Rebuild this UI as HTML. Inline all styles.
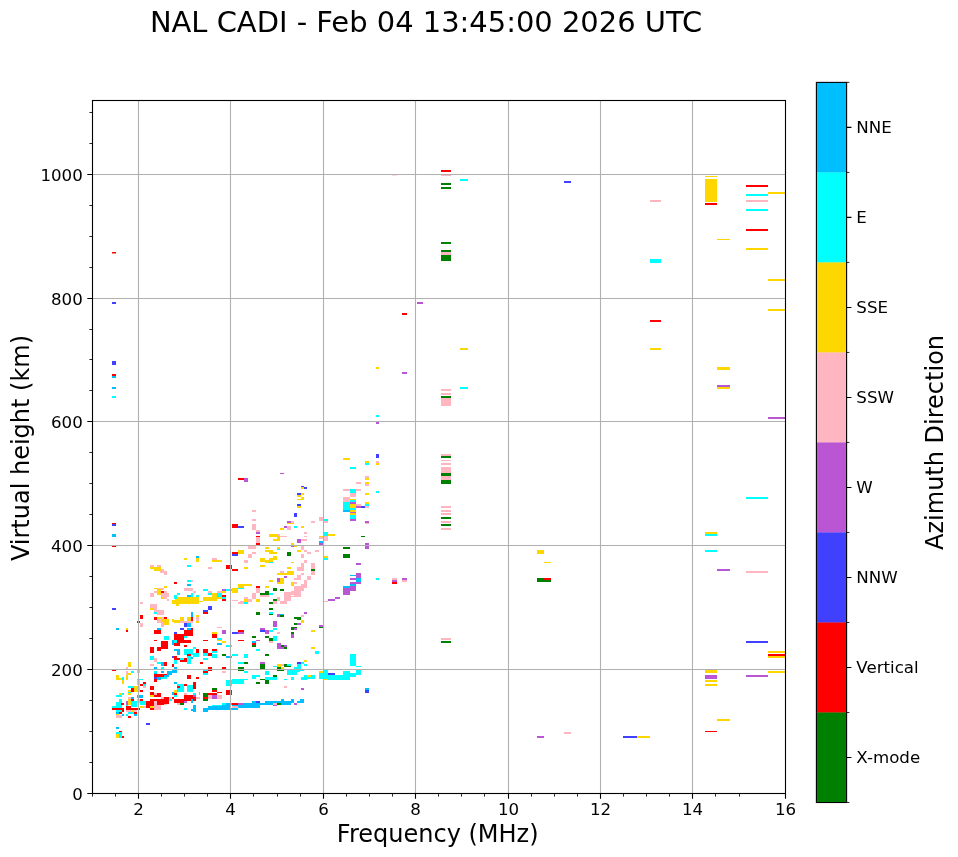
<!DOCTYPE html><html><head><meta charset="utf-8"><style>html,body{margin:0;padding:0;background:#fff;width:958px;height:857px;overflow:hidden}</style></head><body><svg width="958" height="857" viewBox="0 0 958 857" style="position:absolute;left:0;top:0;will-change:transform"><rect x="0" y="0" width="958" height="857" fill="#fff"/><path fill="#ff0000" d="M112 252h4v1.5h-4z"/><path fill="#4040ff" d="M112 302h4v2h-4zM112 361h4v4h-4z"/><path fill="#ff0000" d="M112 374h4v2h-4z"/><path fill="#00bfff" d="M112 376h4v2h-4zM112 387h4v2h-4z"/><path fill="#00ffff" d="M112 396h4v2h-4z"/><path fill="#ff0000" d="M112 523h4v1h-4z"/><path fill="#4040ff" d="M112 524h4v2h-4z"/><path fill="#00bfff" d="M112 534h4v3h-4z"/><path fill="#ff0000" d="M112 546h4v1h-4z"/><path fill="#ffb6c1" d="M150 565h4v2h-4zM157 565h4v2h-4z"/><path fill="#ffd700" d="M150 567h11v2h-11zM154 569h7v2h-7z"/><path fill="#ffb6c1" d="M161 569h3v2h-3zM160 571h5v2h-5zM164 571h3v4h-3z"/><path fill="#ffd700" d="M184 558h3v2h-3z"/><path fill="#00bfff" d="M196 556h3v2h-3z"/><path fill="#ffd700" d="M196 558h3v4h-3z"/><path fill="#ffb6c1" d="M212 558h5v2h-5z"/><path fill="#ffd700" d="M212 560h10v2h-10z"/><path fill="#00ffff" d="M187 565h4v2h-4z"/><path fill="#ffb6c1" d="M208 567h4v2h-4z"/><path fill="#ff0000" d="M226 565h6v4h-6zM230 567h2v2h-2zM232 569h6v2h-6zM232 552h6v2h-6z"/><path fill="#4040ff" d="M232 554h6v2h-6z"/><path fill="#ffd700" d="M238 550h3v4h-3z"/><path fill="#ff0000" d="M174 582h3v2h-3z"/><path fill="#00ffff" d="M187 580h4v2h-4z"/><path fill="#ffb6c1" d="M191 580h2v2h-2z"/><path fill="#00bfff" d="M187 584h4v2h-4z"/><path fill="#ffd700" d="M164 586h3v2h-3zM154 588h3v1h-3z"/><path fill="#ffb6c1" d="M157 588h7v2h-7zM184 588h9v3h-9z"/><path fill="#ffd700" d="M157 589h4v6h-4z"/><path fill="#ff0000" d="M161 591h3v2h-3z"/><path fill="#ffb6c1" d="M154 591h3v2h-3zM164 591h3v2h-3zM150 593h4v4h-4zM161 593h8v4h-8z"/><path fill="#ffd700" d="M161 597h3v2h-3z"/><path fill="#ffb6c1" d="M164 597h3v2h-3zM167 599h2v2h-2zM193 591h3v2h-3z"/><path fill="#00ffff" d="M203 589h5v2h-5z"/><path fill="#ffb6c1" d="M208 591h4v2h-4z"/><path fill="#00ffff" d="M208 593h4v2h-4z"/><path fill="#ffb6c1" d="M217 591h5v2h-5z"/><path fill="#ba55d3" d="M222 589h4v2h-4z"/><path fill="#ffd700" d="M222 591h4v2h-4z"/><path fill="#00ffff" d="M226 589h6v2h-6zM217 593h5v4h-5z"/><path fill="#ff0000" d="M222 595h4v2h-4z"/><path fill="#00ffff" d="M222 597h4v2h-4z"/><path fill="#ff0000" d="M222 599h4v2h-4z"/><path fill="#ffd700" d="M172 600h27v4h-27zM175 597h24v3h-24zM176 604h3v2h-3zM203 597h14v4h-14zM212 593h5v4h-5zM217 597h5v2h-5zM199 601h4v1h-4z"/><path fill="#00ffff" d="M174 595h3v4h-3zM177 593h3v2h-3z"/><path fill="#00bfff" d="M187 595h4v2h-4z"/><path fill="#00ffff" d="M191 593h2v4h-2zM196 595h3v2h-3z"/><path fill="#ffb6c1" d="M140 602h3v2h-3zM150 604h7v4h-7z"/><path fill="#ffd700" d="M150 608h4v2h-4z"/><path fill="#ffb6c1" d="M154 606h3v6h-3zM157 610h7v5h-7z"/><path fill="#00ffff" d="M154 612h3v2h-3z"/><path fill="#4040ff" d="M208 606h4v4h-4zM203 610h5v2h-5z"/><path fill="#ff0000" d="M203 612h5v2h-5zM140 615h3v4h-3z"/><path fill="#00bfff" d="M191 612h2v5h-2z"/><path fill="#ff0000" d="M154 617h3v3h-3z"/><path fill="#ffd700" d="M157 617h4v2h-4z"/><path fill="#ffb6c1" d="M161 617h3v2h-3z"/><path fill="#ff0000" d="M164 617h3v2h-3z"/><path fill="#ffb6c1" d="M157 619h4v4h-4z"/><path fill="#ffd700" d="M161 619h8v6h-8z"/><path fill="#ffb6c1" d="M161 622h3v5h-3zM140 623h3v4h-3z"/><path fill="#ffd700" d="M172 619h2v3h-2zM174 620h6v3h-6zM180 617h4v5h-4z"/><path fill="#ffb6c1" d="M180 621h7v2h-7z"/><path fill="#ffd700" d="M187 617h4v4h-4z"/><path fill="#ff0000" d="M191 617h2v4h-2z"/><path fill="#ffb6c1" d="M187 621h6v2h-6zM196 617h3v4h-3z"/><path fill="#ffd700" d="M196 615h3v2h-3zM196 621h3v2h-3z"/><path fill="#4040ff" d="M184 623h3v4h-3z"/><path fill="#00bfff" d="M187 623h4v4h-4zM157 628h4v2h-4z"/><path fill="#ff0000" d="M154 630h7v4h-7z"/><path fill="#4040ff" d="M180 628h4v2h-4z"/><path fill="#00bfff" d="M187 628h4v2h-4z"/><path fill="#ff0000" d="M184 630h9v6h-9zM191 628h2v4h-2z"/><path fill="#4040ff" d="M174 632h3v2h-3z"/><path fill="#ff0000" d="M174 634h10v6h-10z"/><path fill="#00ffff" d="M164 636h5v4h-5zM184 636h3v2h-3z"/><path fill="#ffb6c1" d="M217 627h5v1h-5z"/><path fill="#ba55d3" d="M222 630h4v4h-4z"/><path fill="#ffd700" d="M212 632h5v2h-5z"/><path fill="#ff0000" d="M212 634h5v4h-5z"/><path fill="#00ffff" d="M217 638h5v2h-5z"/><path fill="#4040ff" d="M232 632h6v2h-6z"/><path fill="#ba55d3" d="M238 632h2v2h-2z"/><path fill="#ff0000" d="M238 630h2v2h-2z"/><path fill="#ffd700" d="M232 588h6v5h-6z"/><path fill="#00ffff" d="M238 588h2v1h-2z"/><path fill="#ffd700" d="M238 584h2v4h-2z"/><path fill="#ffb6c1" d="M232 600h6v1h-6zM238 602h2v2h-2z"/><path fill="#ff0000" d="M154 640h3v1h-3zM161 641h7v8h-7zM157 647h4v4h-4zM150 647h4v6h-4z"/><path fill="#00bfff" d="M172 640h3v5h-3z"/><path fill="#00ffff" d="M174 640h3v4h-3z"/><path fill="#ff0000" d="M177 640h14v3h-14zM174 643h6v3h-6zM184 645h3v2h-3z"/><path fill="#00ffff" d="M193 647h3v2h-3z"/><path fill="#00bfff" d="M174 649h6v2h-6zM177 651h3v4h-3z"/><path fill="#00ffff" d="M184 649h9v6h-9z"/><path fill="#ff0000" d="M196 649h3v4h-3z"/><path fill="#00ffff" d="M193 653h6v4h-6z"/><path fill="#ff0000" d="M187 654h4v2h-4z"/><path fill="#00ffff" d="M187 656h4v8h-4z"/><path fill="#00bfff" d="M191 657h2v2h-2z"/><path fill="#00ffff" d="M150 656h4v4h-4z"/><path fill="#ffb6c1" d="M154 658h3v4h-3z"/><path fill="#4040ff" d="M172 656h2v2h-2z"/><path fill="#ff0000" d="M174 656h3v4h-3zM177 658h3v2h-3z"/><path fill="#00ffff" d="M180 658h4v2h-4z"/><path fill="#ff0000" d="M180 660h7v2h-7zM184 658h3v4h-3z"/><path fill="#00ffff" d="M174 660h3v4h-3zM157 662h4v2h-4z"/><path fill="#00bfff" d="M161 662h3v4h-3z"/><path fill="#ff0000" d="M164 662h3v4h-3z"/><path fill="#ffb6c1" d="M150 664h4v2h-4z"/><path fill="#ff0000" d="M172 664h2v3h-2z"/><path fill="#ffd700" d="M128 662h3v5h-3z"/><path fill="#ffb6c1" d="M126 667h2v2h-2z"/><path fill="#00bfff" d="M154 667h3v2h-3z"/><path fill="#00ffff" d="M161 667h3v2h-3z"/><path fill="#00bfff" d="M174 667h3v2h-3z"/><path fill="#ff0000" d="M112 670h4v1h-4z"/><path fill="#ffb6c1" d="M126 671h2v4h-2z"/><path fill="#00ffff" d="M131 671h3v2h-3z"/><path fill="#ffd700" d="M137 670h3v3h-3zM128 673h3v2h-3zM116 675h3v5h-3zM119 678h3v2h-3z"/><path fill="#00ffff" d="M122 677h2v3h-2z"/><path fill="#ffd700" d="M122 680h2v4h-2zM126 675h2v5h-2z"/><path fill="#00ffff" d="M154 671h3v3h-3z"/><path fill="#00bfff" d="M154 673h3v2h-3zM161 671h3v2h-3zM167 671h5v4h-5zM172 670h5v3h-5z"/><path fill="#ff0000" d="M154 674h13v3h-13z"/><path fill="#4040ff" d="M154 677h3v2h-3z"/><path fill="#00bfff" d="M157 677h4v3h-4z"/><path fill="#00ffff" d="M161 677h6v2h-6z"/><path fill="#00bfff" d="M164 675h5v2h-5z"/><path fill="#ff0000" d="M154 679h3v3h-3zM187 675h4v4h-4zM196 677h3v2h-3z"/><path fill="#00ffff" d="M137 679h6v1h-6z"/><path fill="#ffb6c1" d="M137 680h3v3h-3z"/><path fill="#ffd700" d="M137 683h3v2h-3z"/><path fill="#ff0000" d="M140 684h3v2h-3zM143 682h3v2h-3z"/><path fill="#00ffff" d="M143 684h3v2h-3z"/><path fill="#ffb6c1" d="M143 686h3v2h-3z"/><path fill="#00bfff" d="M174 682h3v2h-3z"/><path fill="#00ffff" d="M177 684h7v8h-7z"/><path fill="#ff0000" d="M184 684h3v2h-3zM193 682h3v7h-3z"/><path fill="#00ffff" d="M187 685h6v7h-6z"/><path fill="#ff0000" d="M177 686h3v2h-3z"/><path fill="#00ffff" d="M128 686h6v2h-6z"/><path fill="#ffd700" d="M134 686h6v6h-6z"/><path fill="#ff0000" d="M131 688h3v4h-3z"/><path fill="#ffd700" d="M128 690h3v2h-3z"/><path fill="#00ffff" d="M128 692h3v1h-3z"/><path fill="#ffd700" d="M128 693h3v2h-3z"/><path fill="#ff0000" d="M140 690h3v2h-3zM150 686h4v4h-4z"/><path fill="#ffd700" d="M174 690h3v3h-3z"/><path fill="#ff0000" d="M174 693h3v2h-3z"/><path fill="#00bfff" d="M172 692h2v3h-2z"/><path fill="#ff0000" d="M150 692h4v4h-4z"/><path fill="#ffd700" d="M150 695h4v2h-4z"/><path fill="#ff0000" d="M157 693h4v4h-4z"/><path fill="#ffb6c1" d="M154 693h3v2h-3z"/><path fill="#ff0000" d="M154 695h3v2h-3z"/><path fill="#ffd700" d="M119 693h3v2h-3z"/><path fill="#00ffff" d="M122 693h2v2h-2zM116 695h6v2h-6z"/><path fill="#00bfff" d="M137 695h6v3h-6z"/><path fill="#00ffff" d="M174 695h3v2h-3z"/><path fill="#ff0000" d="M184 695h9v6h-9z"/><path fill="#ffb6c1" d="M184 693h3v2h-3z"/><path fill="#ff0000" d="M193 696h3v5h-3z"/><path fill="#00ffff" d="M193 693h3v2h-3z"/><path fill="#ba55d3" d="M193 695h3v2h-3z"/><path fill="#ffb6c1" d="M196 697h4v2h-4z"/><path fill="#00ffff" d="M199 692h1v3h-1z"/><path fill="#ffb6c1" d="M128 697h3v2h-3z"/><path fill="#00bfff" d="M131 697h3v2h-3z"/><path fill="#00ffff" d="M119 699h3v3h-3z"/><path fill="#ff0000" d="M131 699h3v2h-3z"/><path fill="#ffd700" d="M128 699h3v6h-3z"/><path fill="#ba55d3" d="M126 701h2v4h-2z"/><path fill="#00ffff" d="M131 701h6v6h-6z"/><path fill="#ffd700" d="M137 699h3v4h-3z"/><path fill="#ff0000" d="M140 699h3v4h-3z"/><path fill="#00ffff" d="M140 701h6v4h-6z"/><path fill="#ff0000" d="M146 701h8v7h-8zM150 699h7v2h-7z"/><path fill="#ffb6c1" d="M154 701h7v9h-7z"/><path fill="#ff0000" d="M157 699h7v6h-7z"/><path fill="#ffb6c1" d="M161 697h6v2h-6zM164 703h3v2h-3z"/><path fill="#ff0000" d="M164 697h5v7h-5z"/><path fill="#ffb6c1" d="M169 697h2v2h-2z"/><path fill="#ff0000" d="M172 697h2v2h-2z"/><path fill="#00ffff" d="M169 699h3v2h-3z"/><path fill="#ffb6c1" d="M174 699h3v2h-3z"/><path fill="#ff0000" d="M174 699h10v4h-10z"/><path fill="#ba55d3" d="M184 701h3v2h-3z"/><path fill="#008000" d="M180 703h4v2h-4z"/><path fill="#ffb6c1" d="M177 703h3v2h-3z"/><path fill="#00bfff" d="M191 699h2v4h-2z"/><path fill="#00ffff" d="M184 708h3v2h-3z"/><path fill="#00bfff" d="M193 705h3v7h-3zM191 709h2v2h-2zM116 703h3v2h-3z"/><path fill="#00ffff" d="M116 702h6v6h-6zM112 706h4v2h-4z"/><path fill="#ff0000" d="M112 708h12v2h-12zM121 703h3v2h-3z"/><path fill="#00ffff" d="M116 710h6v2h-6z"/><path fill="#ff0000" d="M122 710h2v2h-2z"/><path fill="#00bfff" d="M116 712h3v2h-3z"/><path fill="#ff0000" d="M119 712h3v2h-3z"/><path fill="#ffd700" d="M116 714h3v2h-3z"/><path fill="#ffb6c1" d="M116 715h6v3h-6z"/><path fill="#00bfff" d="M122 714h2v2h-2z"/><path fill="#00ffff" d="M126 705h2v2h-2z"/><path fill="#ff0000" d="M126 706h5v2h-5zM126 708h14v2h-14z"/><path fill="#ffb6c1" d="M126 710h11v2h-11z"/><path fill="#ffd700" d="M131 710h3v2h-3z"/><path fill="#00ffff" d="M128 712h6v2h-6z"/><path fill="#ff0000" d="M134 712h3v2h-3z"/><path fill="#00bfff" d="M134 714h3v2h-3z"/><path fill="#00ffff" d="M126 714h2v2h-2z"/><path fill="#ff0000" d="M128 716h3v2h-3z"/><path fill="#ffd700" d="M140 706h6v2h-6z"/><path fill="#ffb6c1" d="M143 706h3v2h-3z"/><path fill="#ff0000" d="M137 708h3v2h-3z"/><path fill="#ffd700" d="M150 706h4v2h-4z"/><path fill="#ff0000" d="M150 708h4v2h-4z"/><path fill="#4040ff" d="M146 723h4v2h-4z"/><path fill="#00bfff" d="M116 727h3v2h-3z"/><path fill="#ff0000" d="M119 731h3v1h-3z"/><path fill="#00ffff" d="M116 732h6v6h-6z"/><path fill="#ffd700" d="M116 734h3v4h-3z"/><path fill="#ff0000" d="M122 736h2v2h-2zM203 640h5v1h-5z"/><path fill="#ffd700" d="M217 640h5v1h-5zM222 641h4v2h-4z"/><path fill="#00bfff" d="M217 643h5v2h-5z"/><path fill="#00ffff" d="M226 645h6v2h-6z"/><path fill="#ff0000" d="M238 640h6v1h-6z"/><path fill="#ba55d3" d="M256 640h4v1h-4z"/><path fill="#00bfff" d="M252 641h4v2h-4z"/><path fill="#ff0000" d="M252 643h4v2h-4z"/><path fill="#008000" d="M252 645h4v2h-4zM269 640h4v1h-4z"/><path fill="#00ffff" d="M273 640h4v1h-4z"/><path fill="#ffb6c1" d="M269 641h4v2h-4z"/><path fill="#ba55d3" d="M277 643h4v6h-4z"/><path fill="#008000" d="M281 645h3v2h-3z"/><path fill="#ba55d3" d="M281 647h3v2h-3zM284 645h3v2h-3z"/><path fill="#008000" d="M284 647h3v2h-3z"/><path fill="#00ffff" d="M256 649h4v2h-4z"/><path fill="#ff0000" d="M203 649h5v4h-5zM212 649h5v2h-5z"/><path fill="#00ffff" d="M212 651h5v2h-5zM203 653h5v3h-5z"/><path fill="#ff0000" d="M208 653h4v3h-4z"/><path fill="#00ffff" d="M212 654h5v4h-5z"/><path fill="#008000" d="M222 654h4v2h-4z"/><path fill="#00bfff" d="M226 656h6v2h-6z"/><path fill="#00ffff" d="M232 654h6v2h-6zM244 654h4v4h-4z"/><path fill="#008000" d="M265 654h4v2h-4z"/><path fill="#00ffff" d="M203 658h5v2h-5z"/><path fill="#ff0000" d="M200 662h3v2h-3z"/><path fill="#00ffff" d="M238 662h6v2h-6z"/><path fill="#008000" d="M244 662h4v2h-4z"/><path fill="#ba55d3" d="M260 662h5v2h-5z"/><path fill="#008000" d="M260 664h5v5h-5z"/><path fill="#ffd700" d="M277 664h4v3h-4z"/><path fill="#ffb6c1" d="M281 664h3v2h-3z"/><path fill="#008000" d="M284 664h3v3h-3z"/><path fill="#00ffff" d="M287 664h4v2h-4z"/><path fill="#008000" d="M287 666h4v1h-4z"/><path fill="#00ffff" d="M273 666h4v1h-4z"/><path fill="#008000" d="M277 667h4v2h-4z"/><path fill="#ffd700" d="M281 667h3v2h-3z"/><path fill="#4040ff" d="M297 662h3v2h-3z"/><path fill="#00ffff" d="M297 664h3v5h-3zM294 667h3v2h-3z"/><path fill="#ff0000" d="M208 667h4v4h-4zM222 667h4v2h-4z"/><path fill="#008000" d="M238 667h6v4h-6zM277 670h7v1h-7z"/><path fill="#ff0000" d="M203 671h5v2h-5z"/><path fill="#00ffff" d="M203 673h5v2h-5zM203 670h5v1h-5z"/><path fill="#ffb6c1" d="M222 671h4v2h-4z"/><path fill="#00ffff" d="M244 671h4v2h-4zM265 671h4v4h-4zM287 670h10v5h-10zM297 670h3v2h-3zM252 675h8v2h-8zM252 677h4v2h-4z"/><path fill="#008000" d="M273 675h4v2h-4z"/><path fill="#00ffff" d="M265 677h12v3h-12z"/><path fill="#008000" d="M260 679h5v1h-5zM265 680h4v4h-4zM256 682h4v2h-4z"/><path fill="#00ffff" d="M284 679h3v1h-3zM291 677h3v3h-3zM226 680h6v6h-6zM232 679h12v5h-12zM238 679h10v1h-10z"/><path fill="#ffb6c1" d="M284 686h3v2h-3z"/><path fill="#008000" d="M212 688h5v2h-5z"/><path fill="#ff0000" d="M212 690h5v2h-5zM217 692h5v1h-5zM226 690h6v5h-6z"/><path fill="#008000" d="M203 693h5v4h-5z"/><path fill="#ff0000" d="M208 693h9v2h-9zM203 697h5v2h-5z"/><path fill="#008000" d="M203 699h5v2h-5z"/><path fill="#ffb6c1" d="M208 695h4v4h-4z"/><path fill="#ba55d3" d="M212 695h5v4h-5z"/><path fill="#ffb6c1" d="M217 695h5v4h-5z"/><path fill="#00bfff" d="M203 708h5v4h-5zM208 706h14v4h-14z"/><path fill="#00ffff" d="M212 705h10v1h-10zM222 703h4v2h-4z"/><path fill="#00bfff" d="M222 705h8v5h-8zM226 703h6v2h-6z"/><path fill="#ff0000" d="M232 703h6v2h-6z"/><path fill="#ba55d3" d="M238 703h6v2h-6z"/><path fill="#00bfff" d="M232 705h6v1h-6z"/><path fill="#ffb6c1" d="M232 706h6v2h-6z"/><path fill="#00bfff" d="M230 708h8v2h-8zM238 705h22v3h-22zM244 703h16v2h-16zM252 701h4v2h-4z"/><path fill="#4040ff" d="M256 701h4v2h-4z"/><path fill="#00bfff" d="M260 703h13v2h-13zM265 701h16v3h-16z"/><path fill="#ffb6c1" d="M273 703h4v2h-4z"/><path fill="#ba55d3" d="M273 705h4v1h-4z"/><path fill="#008000" d="M277 703h4v2h-4z"/><path fill="#00bfff" d="M281 701h10v4h-10zM281 699h3v2h-3zM291 699h3v4h-3z"/><path fill="#ba55d3" d="M294 703h3v2h-3z"/><path fill="#00bfff" d="M297 701h3v2h-3z"/><path fill="#ffd700" d="M311 647h4v2h-4z"/><path fill="#00ffff" d="M315 651h4v3h-4z"/><path fill="#ffd700" d="M304 660h3v2h-3z"/><path fill="#4040ff" d="M300 662h1v2h-1z"/><path fill="#00ffff" d="M301 662h3v2h-3zM304 664h3v2h-3zM300 664h1v5h-1zM350 654h6v12h-6zM356 666h5v1h-5zM300 670h4v1h-4z"/><path fill="#ffd700" d="M319 671h4v2h-4z"/><path fill="#00ffff" d="M319 673h4v6h-4zM323 670h5v10h-5z"/><path fill="#4040ff" d="M328 673h7v2h-7z"/><path fill="#00ffff" d="M328 675h22v5h-22zM343 671h7v4h-7zM350 673h6v4h-6zM356 670h5v5h-5z"/><path fill="#ffd700" d="M324 679h4v1h-4z"/><path fill="#00ffff" d="M301 677h6v3h-6zM304 675h3v2h-3z"/><path fill="#ffd700" d="M307 675h4v2h-4z"/><path fill="#00ffff" d="M307 677h8v2h-8zM311 675h4v2h-4z"/><path fill="#ba55d3" d="M301 688h3v2h-3z"/><path fill="#00bfff" d="M300 699h4v4h-4zM365 688h4v2h-4z"/><path fill="#4040ff" d="M365 690h4v3h-4z"/><path fill="#ffb6c1" d="M256 540h4v3h-4z"/><path fill="#ff0000" d="M256 543h4v2h-4z"/><path fill="#ffd700" d="M273 540h7v1h-7z"/><path fill="#ba55d3" d="M297 540h4v3h-4z"/><path fill="#ffb6c1" d="M301 540h6v1h-6z"/><path fill="#ffd700" d="M291 543h3v3h-3z"/><path fill="#ba55d3" d="M291 546h3v1h-3z"/><path fill="#ffd700" d="M294 546h3v1h-3z"/><path fill="#00bfff" d="M319 541h4v2h-4z"/><path fill="#ba55d3" d="M319 543h4v2h-4z"/><path fill="#ffb6c1" d="M324 540h4v1h-4zM248 546h8v3h-8z"/><path fill="#ffd700" d="M240 550h4v4h-4z"/><path fill="#ffb6c1" d="M252 552h4v2h-4zM248 554h4v4h-4z"/><path fill="#ffd700" d="M265 547h4v2h-4zM265 550h8v2h-8zM269 552h8v2h-8zM277 547h3v2h-3z"/><path fill="#00ffff" d="M277 549h3v1h-3z"/><path fill="#008000" d="M287 552h4v4h-4z"/><path fill="#ffd700" d="M297 550h4v2h-4z"/><path fill="#ffb6c1" d="M301 546h3v4h-3zM304 550h3v2h-3zM307 552h4v2h-4zM315 550h4v2h-4zM301 554h3v4h-3z"/><path fill="#ffd700" d="M324 556h4v2h-4z"/><path fill="#00ffff" d="M324 558h4v2h-4z"/><path fill="#ffd700" d="M273 556h4v4h-4zM260 558h5v4h-5zM265 560h4v3h-4zM269 558h4v4h-4z"/><path fill="#00ffff" d="M269 562h4v1h-4z"/><path fill="#ffb6c1" d="M244 560h4v3h-4z"/><path fill="#ffd700" d="M291 562h3v1h-3z"/><path fill="#ffb6c1" d="M304 560h3v3h-3zM301 563h3v4h-3zM297 567h7v4h-7zM311 563h4v6h-4z"/><path fill="#008000" d="M311 569h4v2h-4z"/><path fill="#ffb6c1" d="M311 571h4v4h-4z"/><path fill="#ffd700" d="M244 567h4v2h-4zM260 565h5v2h-5zM287 567h4v2h-4z"/><path fill="#ffb6c1" d="M280 571h4v2h-4z"/><path fill="#ffd700" d="M277 573h10v2h-10zM287 571h7v4h-7z"/><path fill="#ffb6c1" d="M301 573h3v2h-3z"/><path fill="#ba55d3" d="M284 576h3v2h-3z"/><path fill="#ffb6c1" d="M297 575h4v5h-4zM294 578h3v2h-3zM307 576h4v4h-4z"/><path fill="#ba55d3" d="M277 578h3v4h-3z"/><path fill="#ffd700" d="M280 578h4v6h-4zM277 582h3v2h-3zM269 580h4v2h-4z"/><path fill="#ffb6c1" d="M304 580h3v4h-3zM301 584h6v4h-6z"/><path fill="#ffd700" d="M291 582h3v4h-3z"/><path fill="#ffb6c1" d="M294 582h3v2h-3z"/><path fill="#ffd700" d="M240 584h12v2h-12zM240 586h4v2h-4z"/><path fill="#00ffff" d="M240 588h4v1h-4z"/><path fill="#ff0000" d="M256 586h4v2h-4z"/><path fill="#ffd700" d="M265 586h4v2h-4z"/><path fill="#ffb6c1" d="M294 586h10v5h-10zM284 592h17v5h-17zM291 589h10v3h-10zM284 597h7v4h-7zM280 601h7v3h-7zM277 597h3v4h-3zM256 588h4v5h-4z"/><path fill="#008000" d="M260 593h9v2h-9zM265 591h4v2h-4z"/><path fill="#00ffff" d="M269 593h4v2h-4z"/><path fill="#ffb6c1" d="M260 595h9v2h-9z"/><path fill="#008000" d="M273 588h4v3h-4zM280 589h4v2h-4z"/><path fill="#ffb6c1" d="M252 593h4v6h-4zM244 597h4v2h-4z"/><path fill="#ffd700" d="M244 599h4v3h-4z"/><path fill="#00ffff" d="M244 602h4v2h-4z"/><path fill="#ffb6c1" d="M248 599h4v3h-4zM240 601h4v3h-4z"/><path fill="#ffd700" d="M256 599h4v3h-4z"/><path fill="#008000" d="M273 599h4v2h-4z"/><path fill="#ffb6c1" d="M273 601h4v3h-4z"/><path fill="#008000" d="M269 602h4v2h-4z"/><path fill="#ffb6c1" d="M324 601h4v1h-4z"/><path fill="#ba55d3" d="M328 599h7v2h-7zM335 597h5v2h-5z"/><path fill="#008000" d="M269 608h4v2h-4zM256 612h4v3h-4z"/><path fill="#00ffff" d="M269 612h4v2h-4z"/><path fill="#008000" d="M269 614h4v1h-4z"/><path fill="#ba55d3" d="M277 614h3v3h-3z"/><path fill="#00bfff" d="M280 614h4v1h-4z"/><path fill="#008000" d="M280 615h4v2h-4z"/><path fill="#ba55d3" d="M304 612h3v2h-3z"/><path fill="#ffb6c1" d="M301 615h3v2h-3z"/><path fill="#008000" d="M294 617h3v2h-3zM297 617h4v3h-4z"/><path fill="#ffd700" d="M301 620h3v3h-3z"/><path fill="#008000" d="M294 623h3v2h-3z"/><path fill="#ba55d3" d="M297 623h4v2h-4zM273 621h4v6h-4z"/><path fill="#008000" d="M291 627h6v2h-6zM291 629h3v1h-3z"/><path fill="#ba55d3" d="M294 628h3v2h-3zM319 625h4v2h-4z"/><path fill="#008000" d="M319 627h4v1h-4z"/><path fill="#ffd700" d="M311 630h4v2h-4z"/><path fill="#008000" d="M291 632h3v2h-3z"/><path fill="#ba55d3" d="M291 634h3v4h-3zM260 628h5v2h-5z"/><path fill="#4040ff" d="M260 630h5v2h-5z"/><path fill="#ba55d3" d="M265 630h4v4h-4z"/><path fill="#00ffff" d="M269 630h4v2h-4zM273 628h4v2h-4z"/><path fill="#ffb6c1" d="M277 632h3v2h-3z"/><path fill="#ff0000" d="M240 630h4v2h-4z"/><path fill="#ba55d3" d="M240 632h4v2h-4z"/><path fill="#008000" d="M252 636h4v2h-4zM265 636h4v2h-4zM269 638h4v2h-4z"/><path fill="#00ffff" d="M273 636h4v4h-4z"/><path fill="#4040ff" d="M376 454h3v4h-3z"/><path fill="#ffd700" d="M343 458h7v2h-7zM365 461h4v2h-4z"/><path fill="#00ffff" d="M365 463h4v2h-4z"/><path fill="#ffb6c1" d="M376 461h3v2h-3z"/><path fill="#ffd700" d="M376 463h3v2h-3z"/><path fill="#00ffff" d="M350 467h6v2h-6z"/><path fill="#ffb6c1" d="M365 476h4v2h-4z"/><path fill="#ffd700" d="M365 478h4v2h-4z"/><path fill="#ffb6c1" d="M356 482h5v2h-5z"/><path fill="#ffd700" d="M365 482h4v2h-4z"/><path fill="#ffb6c1" d="M365 484h4v2h-4zM343 489h7v2h-7z"/><path fill="#00ffff" d="M350 489h6v4h-6z"/><path fill="#ffb6c1" d="M356 489h5v2h-5z"/><path fill="#00ffff" d="M376 491h3v2h-3z"/><path fill="#ffb6c1" d="M350 493h6v4h-6z"/><path fill="#ffd700" d="M365 493h4v2h-4z"/><path fill="#ffb6c1" d="M343 497h7v5h-7z"/><path fill="#ffd700" d="M350 499h6v1h-6z"/><path fill="#00ffff" d="M350 500h6v2h-6z"/><path fill="#ba55d3" d="M350 502h6v2h-6z"/><path fill="#00ffff" d="M343 502h7v8h-7z"/><path fill="#00bfff" d="M343 510h7v2h-7z"/><path fill="#ffd700" d="M350 504h6v4h-6z"/><path fill="#00ffff" d="M350 508h6v2h-6z"/><path fill="#ffb6c1" d="M356 504h5v2h-5z"/><path fill="#ba55d3" d="M356 506h5v2h-5z"/><path fill="#4040ff" d="M361 506h4v2h-4z"/><path fill="#ffd700" d="M365 502h4v2h-4z"/><path fill="#00ffff" d="M365 504h4v2h-4z"/><path fill="#ffb6c1" d="M365 506h4v2h-4z"/><path fill="#ffd700" d="M350 510h6v2h-6z"/><path fill="#ba55d3" d="M350 512h6v1h-6z"/><path fill="#ffd700" d="M350 513h6v2h-6z"/><path fill="#00ffff" d="M350 515h6v4h-6z"/><path fill="#ba55d3" d="M350 519h6v2h-6zM365 521h4v2h-4z"/><path fill="#ffb6c1" d="M365 523h4v1h-4z"/><path fill="#ffd700" d="M330 534h5v2h-5z"/><path fill="#008000" d="M361 536h4v1h-4z"/><path fill="#ba55d3" d="M365 543h4v6h-4z"/><path fill="#008000" d="M343 547h7v2h-7zM343 554h7v4h-7z"/><path fill="#ba55d3" d="M356 563h5v2h-5z"/><path fill="#00bfff" d="M350 575h6v1h-6z"/><path fill="#ba55d3" d="M356 573h5v5h-5z"/><path fill="#00bfff" d="M356 578h5v4h-5z"/><path fill="#ba55d3" d="M350 578h6v2h-6zM350 582h11v2h-11z"/><path fill="#00bfff" d="M350 584h6v2h-6zM343 586h7v2h-7z"/><path fill="#ba55d3" d="M343 588h7v7h-7zM350 586h6v5h-6zM330 599h5v2h-5z"/><path fill="#00ffff" d="M376 578h3v2h-3z"/><path fill="#ffb6c1" d="M392 578h5v2h-5z"/><path fill="#ba55d3" d="M392 580h5v2h-5z"/><path fill="#ff0000" d="M392 582h5v2h-5z"/><path fill="#ba55d3" d="M402 578h5v2h-5z"/><path fill="#ffb6c1" d="M402 580h5v2h-5z"/><path fill="#ff0000" d="M232 524h6v4h-6z"/><path fill="#ba55d3" d="M280 473h4v1h-4z"/><path fill="#ff0000" d="M238 478h6v2h-6z"/><path fill="#ba55d3" d="M244 478h4v4h-4z"/><path fill="#4040ff" d="M301 486h3v1h-3z"/><path fill="#ffd700" d="M301 487h3v2h-3z"/><path fill="#4040ff" d="M304 487h3v2h-3zM297 493h4v2h-4z"/><path fill="#ffd700" d="M301 493h3v2h-3zM297 495h4v2h-4zM301 497h3v2h-3zM297 499h7v1h-7z"/><path fill="#4040ff" d="M297 504h4v2h-4z"/><path fill="#ffd700" d="M297 506h4v2h-4z"/><path fill="#4040ff" d="M294 513h3v4h-3z"/><path fill="#ffb6c1" d="M252 510h4v2h-4zM252 519h4v2h-4zM252 524h4v6h-4z"/><path fill="#4040ff" d="M238 526h6v2h-6z"/><path fill="#ba55d3" d="M287 521h4v2h-4z"/><path fill="#ffb6c1" d="M291 521h3v2h-3z"/><path fill="#ffd700" d="M287 523h7v1h-7z"/><path fill="#ba55d3" d="M284 526h3v2h-3z"/><path fill="#ffb6c1" d="M287 526h4v4h-4z"/><path fill="#ffd700" d="M280 528h4v2h-4z"/><path fill="#00ffff" d="M294 526h3v2h-3z"/><path fill="#ffd700" d="M301 526h3v2h-3z"/><path fill="#ffb6c1" d="M311 521h4v2h-4zM319 517h4v4h-4z"/><path fill="#00ffff" d="M324 519h4v2h-4z"/><path fill="#ffb6c1" d="M324 521h4v2h-4zM256 530h4v2h-4z"/><path fill="#ba55d3" d="M256 532h4v2h-4z"/><path fill="#ff0000" d="M256 536h4v1h-4z"/><path fill="#ffb6c1" d="M256 537h4v3h-4z"/><path fill="#ffd700" d="M269 534h8v3h-8z"/><path fill="#ffb6c1" d="M277 534h3v2h-3z"/><path fill="#ffd700" d="M277 536h3v4h-3zM273 539h7v1h-7z"/><path fill="#ffb6c1" d="M280 536h7v1h-7zM304 532h3v2h-3zM304 536h3v1h-3z"/><path fill="#ba55d3" d="M297 539h4v1h-4z"/><path fill="#ffb6c1" d="M301 539h6v1h-6z"/><path fill="#00ffff" d="M324 532h4v4h-4z"/><path fill="#ffb6c1" d="M324 536h4v4h-4z"/><path fill="#ffd700" d="M319 536h4v1h-4z"/><path fill="#ffb6c1" d="M319 537h4v2h-4z"/><path fill="#ffd700" d="M328 534h2v2h-2z"/><path fill="#4040ff" d="M112 608h4v2h-4z"/><path fill="#ff0000" d="M137 621h3v2h-3z"/><path fill="#00bfff" d="M116 628h3v2h-3z"/><path fill="#ffd700" d="M126 628h2v2h-2z"/><path fill="#ff0000" d="M126 630h2v2h-2z"/><path fill="#ffd700" d="M376 367h3v2h-3z"/><path fill="#ba55d3" d="M402 372h5v2h-5z"/><path fill="#00ffff" d="M376 415h3v2h-3z"/><path fill="#ba55d3" d="M376 422h3v2h-3z"/><path fill="#ffb6c1" d="M392 174.5h5v1h-5z"/><path fill="#ff0000" d="M441 170h10v2h-10z"/><path fill="#ffb6c1" d="M441 174.5h10v1.5h-10z"/><path fill="#00ffff" d="M460 179h8v2h-8z"/><path fill="#008000" d="M441 183h10v2h-10zM441 187h10v2h-10zM441 242h10v2h-10zM441 250h10v2h-10z"/><path fill="#ffb6c1" d="M441 252h10v3h-10z"/><path fill="#008000" d="M441 255h10v6h-10z"/><path fill="#ba55d3" d="M417 302h6v2h-6z"/><path fill="#ff0000" d="M402 313h5v2h-5z"/><path fill="#ffd700" d="M460 348h8v2h-8z"/><path fill="#00ffff" d="M460 387h8v2h-8z"/><path fill="#ffb6c1" d="M441 389h10v2h-10zM441 393h10v2h-10z"/><path fill="#008000" d="M441 396h10v2h-10z"/><path fill="#ffb6c1" d="M441 398h10v8h-10zM441 454h10v2h-10z"/><path fill="#008000" d="M441 456h10v2h-10z"/><path fill="#ffb6c1" d="M441 460h10v1h-10zM441 463h10v2h-10zM441 467h10v6h-10z"/><path fill="#008000" d="M441 473h10v3h-10z"/><path fill="#ffb6c1" d="M441 476h10v4h-10z"/><path fill="#008000" d="M441 480h10v4h-10z"/><path fill="#ffb6c1" d="M441 506h10v2h-10zM441 510h10v2h-10zM441 513h10v2h-10z"/><path fill="#008000" d="M441 517h10v2h-10z"/><path fill="#ffb6c1" d="M441 521h10v2h-10z"/><path fill="#008000" d="M441 524h10v2h-10z"/><path fill="#ffb6c1" d="M441 528h10v2h-10zM441 638h10v2h-10z"/><path fill="#008000" d="M441 641h10v2h-10z"/><path fill="#ffd700" d="M537 550h7v4h-7zM544 562h7v1h-7z"/><path fill="#008000" d="M537 578h14v4h-14z"/><path fill="#ff0000" d="M544 578h7v2h-7z"/><path fill="#ba55d3" d="M537 736h7v2h-7z"/><path fill="#ffb6c1" d="M564 732h7v2h-7z"/><path fill="#4040ff" d="M623 736h14v2h-14z"/><path fill="#ffd700" d="M637 736h13v2h-13z"/><path fill="#4040ff" d="M564 181h7v2h-7z"/><path fill="#ffb6c1" d="M650 200h11v2h-11z"/><path fill="#00ffff" d="M650 259h11v4h-11z"/><path fill="#ff0000" d="M650 320h11v2h-11z"/><path fill="#ffd700" d="M650 348h11v2h-11zM705 176h12v1h-12zM705 179h12v23h-12z"/><path fill="#ff0000" d="M705 203h12v2h-12z"/><path fill="#ffd700" d="M717 239h13v1h-13z"/><path fill="#ff0000" d="M746 185h22v2h-22z"/><path fill="#ffd700" d="M768 192h17v2h-17z"/><path fill="#00ffff" d="M746 194h22v2h-22z"/><path fill="#ffb6c1" d="M746 200h22v2h-22z"/><path fill="#00ffff" d="M746 209h22v2h-22z"/><path fill="#ff0000" d="M746 229h22v2h-22z"/><path fill="#ffd700" d="M746 248h22v2h-22zM768 279h17v2h-17zM768 309h17v2h-17zM717 367h13v3h-13z"/><path fill="#ba55d3" d="M717 385h13v2h-13z"/><path fill="#ffd700" d="M717 387h13v2h-13z"/><path fill="#ba55d3" d="M768 417h17v2h-17z"/><path fill="#00ffff" d="M746 497h22v2h-22z"/><path fill="#ffd700" d="M705 532h12v2h-12z"/><path fill="#00ffff" d="M705 534h12v2h-12zM705 550h12v2h-12z"/><path fill="#ba55d3" d="M717 569h13v2h-13z"/><path fill="#ffb6c1" d="M746 571h22v2h-22z"/><path fill="#4040ff" d="M746 641h22v2h-22z"/><path fill="#ffd700" d="M768 651h17v2h-17z"/><path fill="#ff0000" d="M768 654h17v2h-17z"/><path fill="#ffd700" d="M768 656h17v2h-17zM768 671h17v2h-17zM705 670h12v3h-12z"/><path fill="#ba55d3" d="M705 675h12v4h-12z"/><path fill="#ffd700" d="M705 680h12v2h-12zM705 684h12v2h-12z"/><path fill="#ba55d3" d="M746 675h22v2h-22z"/><path fill="#ffd700" d="M717 719h13v2h-13z"/><path fill="#ff0000" d="M705 731h12v1h-12z"/><path fill="#ffffff" d="M284 589h3v2h-3zM291 589h3v2h-3zM291 595h3v1h-3z"/><path d="M138.50 100.5V793.5M230.50 100.5V793.5M323.50 100.5V793.5M415.50 100.5V793.5M508.50 100.5V793.5M600.50 100.5V793.5M692.50 100.5V793.5M92.5 669.50H785.5M92.5 545.50H785.5M92.5 421.50H785.5M92.5 298.50H785.5M92.5 174.50H785.5" stroke="#b0b0b0" stroke-width="1.11" fill="none"/><rect x="92.5" y="100.5" width="693.0" height="693.0" fill="none" stroke="#000" stroke-width="1.11"/><path d="M138.50 793.5v5.2M230.50 793.5v5.2M323.50 793.5v5.2M415.50 793.5v5.2M508.50 793.5v5.2M600.50 793.5v5.2M692.50 793.5v5.2M785.50 793.5v5.2M92.5 793.50h-5.2M92.5 669.50h-5.2M92.5 545.50h-5.2M92.5 421.50h-5.2M92.5 298.50h-5.2M92.5 174.50h-5.2" stroke="#000" stroke-width="1.11" fill="none"/><path d="M92.50 793.5v3.1M115.50 793.5v3.1M161.50 793.5v3.1M184.50 793.5v3.1M207.50 793.5v3.1M253.50 793.5v3.1M277.50 793.5v3.1M300.50 793.5v3.1M346.50 793.5v3.1M369.50 793.5v3.1M392.50 793.5v3.1M438.50 793.5v3.1M461.50 793.5v3.1M484.50 793.5v3.1M531.50 793.5v3.1M554.50 793.5v3.1M577.50 793.5v3.1M623.50 793.5v3.1M646.50 793.5v3.1M669.50 793.5v3.1M715.50 793.5v3.1M739.50 793.5v3.1M92.5 762.50h-3.1M92.5 731.50h-3.1M92.5 700.50h-3.1M92.5 638.50h-3.1M92.5 607.50h-3.1M92.5 576.50h-3.1M92.5 514.50h-3.1M92.5 483.50h-3.1M92.5 452.50h-3.1M92.5 390.50h-3.1M92.5 359.50h-3.1M92.5 329.50h-3.1M92.5 267.50h-3.1M92.5 236.50h-3.1M92.5 205.50h-3.1M92.5 143.50h-3.1M92.5 112.50h-3.1" stroke="#000" stroke-width="0.83" fill="none"/><text x="138.50" y="815.42" text-anchor="middle" font-size="16.67" font-family="'DejaVu Sans', 'Liberation Sans', sans-serif">2</text><text x="230.50" y="815.42" text-anchor="middle" font-size="16.67" font-family="'DejaVu Sans', 'Liberation Sans', sans-serif">4</text><text x="323.50" y="815.42" text-anchor="middle" font-size="16.67" font-family="'DejaVu Sans', 'Liberation Sans', sans-serif">6</text><text x="415.50" y="815.42" text-anchor="middle" font-size="16.67" font-family="'DejaVu Sans', 'Liberation Sans', sans-serif">8</text><text x="508.50" y="815.42" text-anchor="middle" font-size="16.67" font-family="'DejaVu Sans', 'Liberation Sans', sans-serif">10</text><text x="600.50" y="815.42" text-anchor="middle" font-size="16.67" font-family="'DejaVu Sans', 'Liberation Sans', sans-serif">12</text><text x="692.50" y="815.42" text-anchor="middle" font-size="16.67" font-family="'DejaVu Sans', 'Liberation Sans', sans-serif">14</text><text x="785.50" y="815.42" text-anchor="middle" font-size="16.67" font-family="'DejaVu Sans', 'Liberation Sans', sans-serif">16</text><text x="82.78" y="799.60" text-anchor="end" font-size="16.67" font-family="'DejaVu Sans', 'Liberation Sans', sans-serif">0</text><text x="82.78" y="675.60" text-anchor="end" font-size="16.67" font-family="'DejaVu Sans', 'Liberation Sans', sans-serif">200</text><text x="82.78" y="551.60" text-anchor="end" font-size="16.67" font-family="'DejaVu Sans', 'Liberation Sans', sans-serif">400</text><text x="82.78" y="427.60" text-anchor="end" font-size="16.67" font-family="'DejaVu Sans', 'Liberation Sans', sans-serif">600</text><text x="82.78" y="304.60" text-anchor="end" font-size="16.67" font-family="'DejaVu Sans', 'Liberation Sans', sans-serif">800</text><text x="82.78" y="180.60" text-anchor="end" font-size="16.67" font-family="'DejaVu Sans', 'Liberation Sans', sans-serif">1000</text><text x="437.70" y="842" text-anchor="middle" font-size="24" font-family="'DejaVu Sans', 'Liberation Sans', sans-serif">Frequency (MHz)</text><text transform="translate(29.2 448.00) rotate(-90)" x="0" y="0" text-anchor="middle" font-size="24" font-family="'DejaVu Sans', 'Liberation Sans', sans-serif">Virtual height (km)</text><text x="426" y="32.2" text-anchor="middle" font-size="28.95" font-family="'DejaVu Sans', 'Liberation Sans', sans-serif">NAL CADI - Feb 04 13:45:00 2026 UTC</text><rect x="816.4" y="82.40" width="30.20" height="90.31" fill="#00bfff"/><rect x="816.4" y="172.41" width="30.20" height="90.31" fill="#00ffff"/><rect x="816.4" y="262.43" width="30.20" height="90.31" fill="#ffd700"/><rect x="816.4" y="352.44" width="30.20" height="90.31" fill="#ffb6c1"/><rect x="816.4" y="442.45" width="30.20" height="90.31" fill="#ba55d3"/><rect x="816.4" y="532.46" width="30.20" height="90.31" fill="#4040ff"/><rect x="816.4" y="622.48" width="30.20" height="90.31" fill="#ff0000"/><rect x="816.4" y="712.49" width="30.20" height="90.31" fill="#008000"/><rect x="816.4" y="82.4" width="30.20" height="720.10" fill="none" stroke="#000" stroke-width="1.11"/><text x="856.32" y="132.71" font-size="16.67" font-family="'DejaVu Sans', 'Liberation Sans', sans-serif">NNE</text><text x="856.32" y="222.72" font-size="16.67" font-family="'DejaVu Sans', 'Liberation Sans', sans-serif">E</text><text x="856.32" y="312.73" font-size="16.67" font-family="'DejaVu Sans', 'Liberation Sans', sans-serif">SSE</text><text x="856.32" y="402.74" font-size="16.67" font-family="'DejaVu Sans', 'Liberation Sans', sans-serif">SSW</text><text x="856.32" y="492.76" font-size="16.67" font-family="'DejaVu Sans', 'Liberation Sans', sans-serif">W</text><text x="856.32" y="582.77" font-size="16.67" font-family="'DejaVu Sans', 'Liberation Sans', sans-serif">NNW</text><text x="856.32" y="672.78" font-size="16.67" font-family="'DejaVu Sans', 'Liberation Sans', sans-serif">Vertical</text><text x="856.32" y="762.79" font-size="16.67" font-family="'DejaVu Sans', 'Liberation Sans', sans-serif">X-mode</text><path d="M846.6 127.41h4.86M846.6 217.42h4.86M846.6 307.43h4.86M846.6 397.44h4.86M846.6 487.46h4.86M846.6 577.47h4.86M846.6 667.48h4.86M846.6 757.49h4.86" stroke="#000" stroke-width="1.11" fill="none"/><path d="M846.6 82.40h2.78M846.6 172.41h2.78M846.6 262.43h2.78M846.6 352.44h2.78M846.6 442.45h2.78M846.6 532.46h2.78M846.6 622.48h2.78M846.6 712.49h2.78M846.6 802.50h2.78" stroke="#000" stroke-width="0.83" fill="none"/><text transform="translate(943.4 442.45) rotate(-90)" x="0" y="0" text-anchor="middle" font-size="24" font-family="'DejaVu Sans', 'Liberation Sans', sans-serif">Azimuth Direction</text></svg></body></html>
